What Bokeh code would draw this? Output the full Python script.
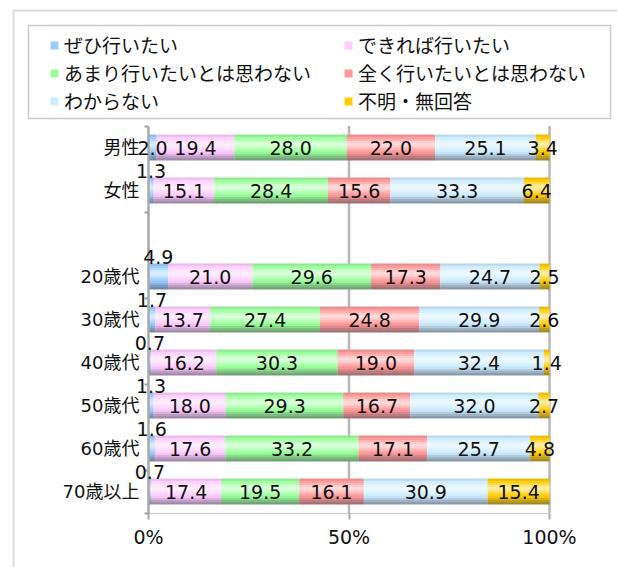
from bokeh.plotting import figure
from bokeh.models import (Range1d, FixedTicker, ColumnDataSource, Legend, LegendItem,
                          LabelSet, BoxAnnotation)
from bokeh.embed import file_html
from bokeh.resources import INLINE
from bokeh.core.properties import value

# ---------------- data ----------------
categories = ["男性", "女性", "20歳代", "30歳代", "40歳代", "50歳代", "60歳代", "70歳以上"]
series_names = ["ぜひ行いたい", "できれば行いたい", "あまり行いたいとは思わない",
                "全く行いたいとは思わない", "わからない", "不明・無回答"]
zehi      = [2.0, 1.3, 4.9, 1.7, 0.7, 1.3, 1.6, 0.7]
dekireba  = [19.4, 15.1, 21.0, 13.7, 16.2, 18.0, 17.6, 17.4]
amari     = [28.0, 28.4, 29.6, 27.4, 30.3, 29.3, 33.2, 19.5]
mattaku   = [22.0, 15.6, 17.3, 24.8, 19.0, 16.7, 17.1, 16.1]
wakaranai = [25.1, 33.3, 24.7, 29.9, 32.4, 32.0, 25.7, 30.9]
fumei     = [3.4, 6.4, 2.5, 2.6, 1.4, 2.7, 4.8, 15.4]
x_tick_values = [0, 50, 100]
x_tick_labels = ["0%", "50%", "100%"]

# ---------------- styles / layout ----------------
W, H = 617, 567
colors = ["#99CCFF", "#FFCCFF", "#99FF99", "#FF9999", "#CCECFF", "#FFCC00"]
gap_after = 2            # empty slot between 女性 and 20歳代
bar_h = 0.6
profile = [-0.12, 0.05, 0.25, 0.5, 0.65, 0.55, 0.3, 0.1, -0.05, -0.2, -0.35, -0.5]
label_font = "DejaVu Sans, Noto Sans CJK JP"
jp_font = "Noto Sans CJK JP"
# plot area placement in pixels
px0, px100 = 148.0, 549.0        # x pixel of 0% and 100%
py_first, py_step = 147.0, 43.0  # y pixel of first slot centre, pixels per slot

series = [zehi, dekireba, amari, mattaku, wakaranai, fumei]
slots = [i if i < gap_after else i + 1 for i in range(len(categories))]
n_slots = len(categories) + 1

xs_per_px = 100.0 / (px100 - px0)
x_start = -px0 * xs_per_px
x_end = (W - px0) * xs_per_px
y_top = -py_first / py_step
y_bot = (H - py_first) / py_step


def shade(hexc, a):
    r, g, b = int(hexc[1:3], 16), int(hexc[3:5], 16), int(hexc[5:7], 16)
    if a >= 0:
        t = (255, 255, 255)
    else:
        t = (70, 70, 80)
        a = -a
    c = [round(v + (w - v) * a) for v, w in zip((r, g, b), t)]
    return "#%02x%02x%02x" % tuple(c)


# normalised stacking (100% stacked bar)
totals = [sum(s[i] for s in series) for i in range(len(categories))]
lefts, rights = [], []
for i in range(len(categories)):
    acc = 0.0
    ls, rs = [], []
    for s in series:
        v = s[i] / totals[i] * 100
        ls.append(acc)
        acc += v
        rs.append(acc)
    lefts.append(ls)
    rights.append(rs)

p = figure(width=W, height=H, output_backend="svg", toolbar_location=None,
           x_range=Range1d(x_start, x_end), y_range=Range1d(y_bot, y_top),
           min_border=0)
p.outline_line_color = None
p.background_fill_color = "white"
p.border_fill_color = "white"
p.xgrid.grid_line_color = None
p.ygrid.grid_line_color = None

# outer frame and legend box
p.add_layout(BoxAnnotation(left=13, top=10, right=W + 20, bottom=H + 20,
                           left_units="canvas", right_units="canvas",
                           top_units="canvas", bottom_units="canvas",
                           fill_alpha=0, line_color="#8A8A8A", line_width=2, level="underlay"))
p.add_layout(BoxAnnotation(left=28, top=25, right=610, bottom=118,
                           left_units="canvas", right_units="canvas",
                           top_units="canvas", bottom_units="canvas",
                           fill_color="white", fill_alpha=1, line_color="#505050",
                           line_width=1.5, level="underlay"))

# vertical grid lines at 50% / 100%
p.segment(x0=x_tick_values[1:], y0=[-0.5] * 2, x1=x_tick_values[1:], y1=[n_slots - 0.5] * 2,
          line_color="#B8B8B8", line_width=2.5, level="underlay")

# bars with glossy gradient strips
nstr = len(profile)
sh = bar_h / nstr
legend_renderers = {}
for si, name in enumerate(series_names):
    ys, hs, ls, rs, cs = [], [], [], [], []
    for i in range(len(categories)):
        bar_top = slots[i] - bar_h / 2
        bar_bot = slots[i] + bar_h / 2
        for k, a in enumerate(profile):
            t = bar_top + k * sh
            b = min(t + sh * 1.7, bar_bot)
            ys.append((t + b) / 2)
            hs.append(b - t)
            ls.append(lefts[i][si])
            rs.append(rights[i][si])
            cs.append(shade(colors[si], a))
    src = ColumnDataSource(dict(y=ys, h=hs, left=ls, right=rs, color=cs))
    p.hbar(y="y", left="left", right="right", height="h", fill_color="color",
           line_color=None, source=src)
    # legend swatch: a square marker placed outside the visible range
    legend_renderers[name] = p.scatter(x=[x_start - 100], y=[0], marker="square", size=8,
                                       fill_color=colors[si], line_color=None)

# legend items in column-major order for two columns (row-wise reading as in the reference)
order = list(range(0, len(series_names), 2)) + list(range(1, len(series_names), 2))
legend_items = [LegendItem(label=series_names[j], renderers=[legend_renderers[series_names[j]]])
                for j in order]

# data labels
for si in range(len(series)):
    xs, ys, ts = [], [], []
    xa, ya, ta = [], [], []
    for i in range(len(categories)):
        cx = (lefts[i][si] + rights[i][si]) / 2
        txt = "%.1f" % series[si][i]
        if si == 0 and i > 0:
            xa.append(cx); ya.append(slots[i] - bar_h / 2); ta.append(txt)
        else:
            xs.append(cx); ys.append(slots[i]); ts.append(txt)
    p.add_layout(LabelSet(x="x", y="y", text="t", source=ColumnDataSource(dict(x=xs, y=ys, t=ts)),
                          text_align="center", text_baseline="middle", text_font=value(label_font),
                          text_font_size="19px", text_color="#111111"))
    if xa:
        p.add_layout(LabelSet(x="x", y="y", text="t", source=ColumnDataSource(dict(x=xa, y=ya, t=ta)),
                              text_align="center", text_baseline="alphabetic",
                              text_font=value(label_font), text_font_size="19px",
                              text_color="#111111"))

# axes (drawn at fixed data locations, so the plot frame fills the whole canvas)
p.yaxis.fixed_location = 0
p.yaxis.bounds = (-0.5, n_slots - 0.5)
p.yaxis.ticker = FixedTicker(ticks=slots, minor_ticks=[-0.5, 1.5, 3.5, 5.5, 7.5, 8.5])
p.yaxis.major_label_overrides = {s: c for s, c in zip(slots, categories)}
p.yaxis.major_tick_out = 0
p.yaxis.major_tick_in = 0
p.yaxis.minor_tick_out = 4
p.yaxis.minor_tick_in = 0
p.yaxis.minor_tick_line_color = "#A0A0A0"
p.yaxis.minor_tick_line_width = 2
p.yaxis.axis_line_color = "#A8A8A8"
p.yaxis.axis_line_width = 2.5
p.yaxis.major_label_standoff = 5
p.yaxis.major_label_text_font = label_font
p.yaxis.major_label_text_font_size = "18px"
p.yaxis.major_label_text_color = "#111111"

p.xaxis.fixed_location = n_slots - 0.5
p.xaxis.bounds = (0, 100)
p.xaxis.ticker = FixedTicker(ticks=x_tick_values)
p.xaxis.major_label_overrides = {v: t for v, t in zip(x_tick_values, x_tick_labels)}
p.xaxis.minor_tick_line_color = None
p.xaxis.major_tick_out = 6
p.xaxis.major_tick_in = 0
p.xaxis.major_tick_line_color = "#A8A8A8"
p.xaxis.major_tick_line_width = 2
p.xaxis.axis_line_color = "#C8C8C8"
p.xaxis.axis_line_width = 1
p.xaxis.major_label_standoff = 7
p.xaxis.major_label_text_font = label_font
p.xaxis.major_label_text_font_size = "19px"
p.xaxis.major_label_text_color = "#111111"

legend = Legend(items=legend_items, ncols=2, location=(44, 453),
                glyph_width=20, glyph_height=26, label_standoff=-2, label_width=273,
                label_height=20, spacing=1, padding=0, margin=0,
                border_line_color=None, background_fill_alpha=0,
                label_text_font=jp_font, label_text_font_size="19px",
                label_text_color="#111111")
p.add_layout(legend)

open("out.html", "w").write(file_html(p, INLINE))
